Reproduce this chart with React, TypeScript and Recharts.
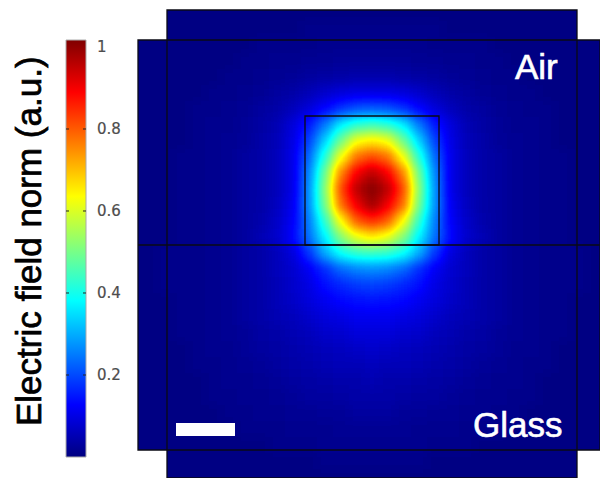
import { ReferenceArea, ReferenceLine, Scatter, ScatterChart, XAxis, YAxis } from "recharts"

// field, in percent of the colour scale
// x = distance from the pillar centre, y = height above the glass
const fieldOffsets = [0, 16, 32, 48, 64, 80, 96, 112, 128, 144, 160, 176, 192, 208, 224, 240]
const fieldHeights = [
  231, 215, 199, 183, 167, 151, 135, 119, 103, 87, 71, 55, 39, 23, 7,
  -9, -25, -41, -57, -73, -89, -105, -121, -137, -153, -169, -185, -201, -217, -233,
]
const fieldRows = [
  [0.5, 0.5, 0.5, 0.5, 0.5, 0.5, 0.5, 0.5, 0.5, 0.5, 0.5, 0.5, 0.5, 0.5, 0.5, 0.5],
  [1, 1, 1, 1, 1, 0.5, 0.5, 0.5, 0.5, 0.5, 0.5, 0.5, 0.5, 0.5, 0.5, 0.5],
  [1.5, 1.5, 1.5, 1.5, 1, 1, 1, 1, 0.5, 0.5, 0.5, 0.5, 0.5, 0.5, 0.5, 0.5],
  [2.5, 2.5, 2.5, 2, 2, 1.5, 1.5, 1, 1, 0.5, 0.5, 0.5, 0.5, 0.5, 0.5, 0.5],
  [4.5, 4.5, 4, 3.5, 3, 2.5, 2, 1.5, 1, 1, 0.5, 0.5, 0.5, 0.5, 0.5, 0.5],
  [10, 10, 9, 7.5, 5.5, 4, 3, 2, 1.5, 1, 1, 0.5, 0.5, 0.5, 0.5, 0.5],
  [22, 21, 18, 13, 9, 6, 4, 3, 2, 1.5, 1, 1, 0.5, 0.5, 0.5, 0.5],
  [45, 43, 37, 25, 15, 9, 5, 3.5, 2.5, 1.5, 1.5, 1, 0.5, 0.5, 0.5, 0.5],
  [66, 63, 50, 34, 19, 10, 5.5, 4, 2.5, 2, 1.5, 1, 0.5, 0.5, 0.5, 0.5],
  [82, 78, 63, 42, 23, 10.5, 6, 4, 3, 2, 1.5, 1, 1, 0.5, 0.5, 0.5],
  [96, 90, 76, 49, 26, 10.5, 6, 4, 3, 2, 1.5, 1, 1, 0.5, 0.5, 0.5],
  [103, 96, 82, 52, 27, 10.5, 6, 4, 3, 2, 1.5, 1, 1, 0.5, 0.5, 0.5],
  [99, 91, 78, 50, 27, 11, 6.5, 4, 3, 2, 1.5, 1, 1, 0.5, 0.5, 0.5],
  [85, 80, 64, 43, 25, 12, 7, 4.5, 3, 2, 1.5, 1, 1, 0.5, 0.5, 0.5],
  [66, 62, 52, 37, 24, 13, 7.5, 5, 3, 2, 1.5, 1, 1, 0.5, 0.5, 0.5],
  [44, 43, 39, 30, 18, 9, 6, 4, 3, 2, 1.5, 1, 1, 1, 0.5, 0.5],
  [27, 26, 23, 17, 11.5, 8, 6, 4, 3, 2, 1.5, 1, 1, 1, 0.5, 0.5],
  [19, 18.5, 16.5, 14, 10, 7.5, 5.5, 4, 3, 2, 1.5, 1, 1, 1, 0.5, 0.5],
  [14.5, 14, 13, 11, 9, 7, 5.5, 4, 3, 2, 1.5, 1, 1, 0.5, 0.5, 0.5],
  [11, 11, 10, 9, 7.5, 6, 5, 4, 3, 2, 1.5, 1, 1, 0.5, 0.5, 0.5],
  [9, 9, 8, 7.5, 6, 5, 4, 3.5, 2.5, 2, 1.5, 1, 1, 0.5, 0.5, 0.5],
  [7.5, 7, 6.5, 6, 5, 4.5, 3.5, 3, 2.5, 1.5, 1.5, 1, 0.5, 0.5, 0.5, 0.5],
  [6, 5.5, 5.5, 5, 4.5, 4, 3, 2.5, 2, 1.5, 1, 1, 0.5, 0.5, 0.5, 0.5],
  [5, 4.5, 4.5, 4, 3.5, 3, 2.5, 2, 1.5, 1.5, 1, 0.5, 0.5, 0.5, 0.5, 0.5],
  [4, 4, 3.5, 3, 3, 2.5, 2, 1.5, 1.5, 1, 1, 0.5, 0.5, 0.5, 0.5, 0.5],
  [3, 3, 2.5, 2.5, 2, 2, 1.5, 1.5, 1, 1, 0.5, 0.5, 0.5, 0.5, 0.5, 0.5],
  [2, 2, 2, 1.5, 1.5, 1.5, 1, 1, 1, 0.5, 0.5, 0.5, 0.5, 0.5, 0.5, 0.5],
  [1.5, 1.5, 1.5, 1.5, 1, 1, 1, 0.5, 0.5, 0.5, 0.5, 0.5, 0.5, 0.5, 0.5, 0.5],
  [1, 1, 1, 1, 0.5, 0.5, 0.5, 0.5, 0.5, 0.5, 0.5, 0.5, 0.5, 0.5, 0.5, 0.5],
  [0.5, 0.5, 0.5, 0.5, 0.5, 0.5, 0.5, 0.5, 0.5, 0.5, 0.5, 0.5, 0.5, 0.5, 0.5, 0.5],
]
const colorbarTicks = [0.2, 0.4, 0.6, 0.8, 1]
const colorbarLevels = [0, 1.017]
const colorbarMax = 1.017

// field is mirrored around the pillar centre; the right side ends at the image edge
const cells = fieldRows.flatMap((row, r) =>
  row.flatMap((value, c) => {
    const y = fieldHeights[r]
    const off = fieldOffsets[c]
    const left = { x: -off, y, value }
    return off === 0 || off === 240 ? [left] : [left, { x: off, y, value }]
  })
)
const tickPoints = colorbarTicks.map((y) => ({ x: -296, y }))

const jetStops = [
  [0, "#000080"],
  [0.125, "#0000ff"],
  [0.375, "#00ffff"],
  [0.625, "#ffff00"],
  [0.875, "#ff0000"],
  [1, "#800000"],
]

const HeatCell = ({ cx, cy, payload }: any) => {
  const level = Math.round(Math.min(1, payload.value / 100 / colorbarMax) * 255)
  return (
    <rect
      x={cx - 9}
      y={cy - 9}
      width={18}
      height={18}
      fill={`rgb(${level},${level},${level})`}
    />
  )
}

// small dashes on both sides of the colour bar, with the value to the right
const ColorbarTick = ({ cx, cy, payload }: any) => (
  <g>
    {payload.y < 1 && <line x1={cx - 10} x2={cx - 7} y1={cy} y2={cy} stroke="#222" />}
    {payload.y < 1 && <line x1={cx + 7} x2={cx + 10} y1={cy} y2={cy} stroke="#222" />}
    <text x={cx + 21} y={cy + 5} fontSize={15} fill="#4d4d4d" stroke="#4d4d4d" strokeWidth={0.2} fontFamily="DejaVu Sans">
      {payload.y}
    </text>
  </g>
)

export default function App() {
  const line = "#0a0a14"
  return (
    <div style={{ position: "absolute", left: 0, top: 0, width: 600, height: 478, overflow: "hidden" }}>
      <style>{`.heat { filter: url(#jet); clip-path: url(#domain); }`}</style>
      <ScatterChart width={600} height={478} margin={{ top: 0, right: 0, bottom: 0, left: 0 }}>
        <defs>
          <filter id="jet" filterUnits="userSpaceOnUse" x={0} y={0} width={600} height={478} colorInterpolationFilters="sRGB">
            <feGaussianBlur stdDeviation={6} />
            <feComponentTransfer>
              <feFuncR type="table" tableValues="0 0 0 0 0.5 1 1 1 0.5" />
              <feFuncG type="table" tableValues="0 0 0.5 1 1 1 0.5 0 0" />
              <feFuncB type="table" tableValues="0.5 1 1 1 0.5 0 0 0 0" />
            </feComponentTransfer>
          </filter>
          <clipPath id="domain" clipPathUnits="userSpaceOnUse">
            <rect x={167} y={10} width={410} height={468} />
            <rect x={138} y={40} width={462} height={410} />
          </clipPath>
          <linearGradient id="jetBar" x1="0" y1="1" x2="0" y2="0">
            {jetStops.map(([o, c]) => (
              <stop key={o} offset={o} stopColor={c as string} />
            ))}
          </linearGradient>
        </defs>
        <XAxis type="number" dataKey="x" domain={[-372, 228]} hide />
        <YAxis type="number" dataKey="y" domain={[-233, 245]} hide />
        <YAxis
          yAxisId="bar"
          type="number"
          dataKey="y"
          domain={[-0.0512, 1.1146]}
          hide
        />

        {/* navy underlay so the blurred edge of the field stays dark */}
        <ReferenceArea x1={-205} x2={205} y1={-233} y2={235} fill="#000080" fillOpacity={1} zIndex={-2} />
        <ReferenceArea x1={-234} x2={228} y1={-205} y2={205} fill="#000080" fillOpacity={1} zIndex={-2} />

        <Scatter data={cells} className="heat" shape={<HeatCell />} isAnimationActive={false} zIndex={-1} />

        {/* geometry outlines */}
        <ReferenceArea x1={-205} x2={205} y1={-233} y2={235} fill="none" stroke={line} strokeWidth={1.3} zIndex={1000} />
        <ReferenceArea x1={-234} x2={228} y1={-205} y2={205} fill="none" stroke={line} strokeWidth={1.3} zIndex={1000} />
        <ReferenceArea x1={-67} x2={67} y1={0} y2={129} fill="none" stroke={line} strokeWidth={1.3} zIndex={1000} />
        <ReferenceLine
          segment={[{ x: -234, y: 0 }, { x: 228, y: 0 }]}
          stroke={line}
          strokeWidth={1.3}
          zIndex={1000}
        />

        {/* scale bar */}
        <ReferenceArea x1={-196} x2={-137} y1={-191} y2={-178} fill="#fff" fillOpacity={1} zIndex={1000} />

        {/* colour bar */}
        <ReferenceArea
          yAxisId="bar"
          x1={-306}
          x2={-286}
          y1={colorbarLevels[0]}
          y2={colorbarLevels[1]}
          fill="url(#jetBar)"
          fillOpacity={1}
          stroke="#aaa"
          strokeWidth={1}
          zIndex={100}
        />
        <Scatter yAxisId="bar" data={tickPoints} shape={<ColorbarTick />} isAnimationActive={false} />

        <text x={515} y={79} fontSize={35} fill="#fff" stroke="#fff" strokeWidth={0.6} fontFamily="Liberation Sans">Air</text>
        <text x={473} y={437} fontSize={35} fill="#fff" stroke="#fff" strokeWidth={0.6} fontFamily="Liberation Sans">Glass</text>
        <text
          transform="translate(41 426) rotate(-90)"
          fontSize={35}
          fill="#000"
          stroke="#000"
          strokeWidth={0.7}
          fontFamily="Liberation Sans"
        >
          Electric field norm (a.u.)
        </text>
      </ScatterChart>
    </div>
  )
}
